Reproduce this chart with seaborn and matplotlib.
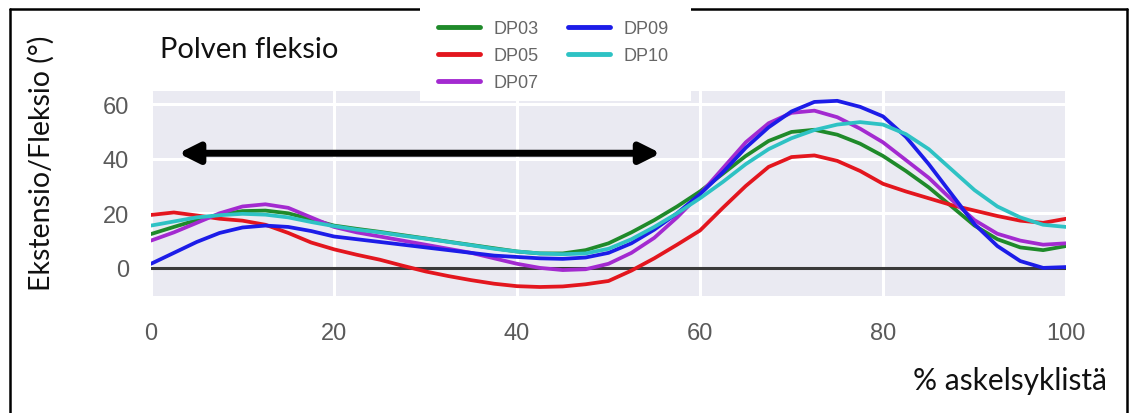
import numpy as np
import pandas as pd
import matplotlib
matplotlib.use("Agg")
import matplotlib.pyplot as plt
from matplotlib.lines import Line2D
from matplotlib.patches import Rectangle
import seaborn as sns

# ---- data ----
cycle = [0, 2.5, 5, 7.5, 10, 12.5, 15, 17.5, 20, 22.5, 25, 27.5, 30, 32.5, 35, 37.5,
         40, 42.5, 45, 47.5, 50, 52.5, 55, 57.5, 60, 62.5, 65, 67.5, 70, 72.5, 75,
         77.5, 80, 82.5, 85, 87.5, 90, 92.5, 95, 97.5, 100]

dp03 = [12.4, 15.0, 17.5, 19.5, 20.8, 21.0, 20.0, 17.8, 15.5, 14.3, 13.2, 12.0, 10.8,
        9.6, 8.4, 7.2, 6.0, 5.3, 5.3, 6.5, 9.0, 13.0, 17.5, 22.5, 28.0, 34.5, 41.0,
        46.5, 49.8, 50.6, 48.8, 45.5, 41.0, 35.5, 29.5, 22.5, 15.5, 10.5, 7.5, 6.5, 8.0]
dp05 = [19.4, 20.3, 19.2, 18.0, 17.3, 15.8, 12.8, 9.3, 6.8, 4.8, 3.0, 0.8, -1.3, -3.0,
        -4.5, -5.8, -6.7, -7.0, -6.8, -6.0, -4.8, -1.0, 3.5, 8.5, 13.7, 22.0, 30.0,
        37.0, 40.6, 41.2, 39.2, 35.5, 30.8, 28.0, 25.5, 23.0, 21.0, 19.0, 17.3, 16.5, 18.0]
dp07 = [10.0, 13.0, 16.5, 20.0, 22.5, 23.3, 22.0, 18.5, 15.0, 13.0, 11.5, 10.0, 8.5,
        7.0, 5.5, 3.5, 1.5, 0.0, -0.8, -0.5, 1.5, 5.5, 11.0, 18.5, 27.0, 36.5, 46.0,
        53.0, 56.8, 57.6, 55.2, 51.0, 46.0, 39.5, 33.0, 25.0, 17.5, 12.5, 10.0, 8.5, 9.0]
dp09 = [1.5, 5.5, 9.5, 12.8, 14.8, 15.5, 15.0, 13.5, 11.5, 10.5, 9.5, 8.5, 7.5, 6.5,
        5.5, 4.5, 4.0, 3.5, 3.3, 3.8, 5.5, 9.0, 14.0, 20.0, 27.0, 35.0, 44.0, 51.5,
        57.3, 60.8, 61.2, 59.0, 55.5, 48.0, 38.0, 27.0, 16.0, 8.0, 2.5, 0.0, 0.3]
dp10 = [15.5, 17.0, 18.5, 19.3, 19.8, 19.5, 18.5, 16.8, 15.3, 14.0, 13.0, 11.8, 10.7,
        9.5, 8.3, 7.0, 6.0, 5.3, 5.0, 5.3, 7.0, 10.5, 15.0, 20.0, 25.5, 31.5, 38.0,
        43.5, 47.5, 50.5, 52.5, 53.4, 52.5, 49.0, 43.5, 36.0, 28.5, 22.5, 18.5, 15.8, 15.0]

series_names = ["DP03", "DP05", "DP07", "DP09", "DP10"]
series_values = [dp03, dp05, dp07, dp09, dp10]
legend_order = ["DP03", "DP05", "DP07", "DP09", "DP10"]
x_ticks = [0, 20, 40, 60, 80, 100]
y_ticks = [0, 20, 40, 60]

title_text = "Polven fleksio"
ylabel_text = "Ekstensio/Fleksio (°)"
xlabel_text = "% askelsyklistä"

colors = {"DP03": "#1f8a2a", "DP05": "#e3161e", "DP07": "#a32ad0",
          "DP09": "#1c1ce8", "DP10": "#2ec2c4"}

df = pd.DataFrame({
    "x": np.tile(cycle, len(series_names)),
    "y": np.concatenate(series_values),
    "series": np.repeat(series_names, len(cycle)),
})

sns.set_theme(style="darkgrid", rc={"grid.linewidth": 2.2, "grid.color": "white",
                                    "axes.facecolor": "#EAEAF2",
                                    "lines.solid_joinstyle": "round"})
plt.rcParams["font.family"] = ["Liberation Sans", "DejaVu Sans"]

W, H = 1129, 414
fig = plt.figure(figsize=(W / 100, H / 100), dpi=100)
fig.patch.set_facecolor("white")
ax = fig.add_axes([151 / W, (H - 297) / H, (1066 - 151) / W, (297 - 92) / H])

sns.lineplot(data=df, x="x", y="y", hue="series", palette=colors,
             linewidth=2.7, ax=ax, legend=False, zorder=3)
ax.axhline(0, color="#3a3a3a", lw=2.2, zorder=2)

ax.set_xlim(0, 100)
ax.set_ylim(-10.3, 64.8)
ax.set_xticks(x_ticks)
ax.set_yticks(y_ticks)
ax.tick_params(axis="both", labelsize=17, colors="#5a5a5a", length=0)
ax.tick_params(axis="x", pad=19)
ax.tick_params(axis="y", pad=16)
ax.set_xlabel("")
ax.set_ylabel("")
for s in ax.spines.values():
    s.set_visible(False)

# double-headed arrow
ax.annotate("", xy=(3.0, 42), xytext=(55.7, 42),
            arrowprops=dict(arrowstyle="<|-|>", color="black", lw=5,
                            mutation_scale=30, shrinkA=0, shrinkB=0), zorder=5)

# texts
fig.text(160 / W, 1 - 50 / H, title_text, fontsize=21, family=["Lato", "DejaVu Sans"],
         ha="left", va="center", color="#111111")
fig.text(41 / W, 1 - 163 / H, ylabel_text, fontsize=20.5, family=["Lato", "DejaVu Sans"],
         rotation=90, ha="center", va="center", color="#111111")
fig.text(1107 / W, 1 - 381 / H, xlabel_text, fontsize=21.5, family=["Lato", "DejaVu Sans"],
         ha="right", va="center", color="#111111")

# border
bl = dict(color="black", lw=1.8, transform=fig.transFigure, zorder=1)
fig.add_artist(Line2D([10 / W, 10 / W], [0, 1 - 10 / H], **bl))
fig.add_artist(Line2D([10 / W, 1127 / W], [1 - 10 / H, 1 - 10 / H], **bl))
fig.add_artist(Line2D([1127 / W, 1127 / W], [0, 1 - 10 / H], **bl))

# legend box (white panel) and legend
fig.add_artist(Rectangle((420 / W, 1 - 102 / H), (691 - 420) / W, (102 - 8) / H,
                         transform=fig.transFigure, facecolor="white",
                         edgecolor="none", zorder=9))
handles = [Line2D([], [], color=colors[n], lw=3.5) for n in legend_order]
leg = fig.legend(handles, legend_order, loc="upper left",
                 bbox_to_anchor=(438 / W, 1 - 21 / H), ncol=2, fontsize=13,
                 frameon=False, handlelength=2.3, columnspacing=1.6,
                 labelspacing=0.55, borderpad=0, borderaxespad=0, handletextpad=0.8)
for t in leg.get_texts():
    t.set_color("#666666")
leg.set_zorder(10)

fig.savefig("out.png", dpi=100)
